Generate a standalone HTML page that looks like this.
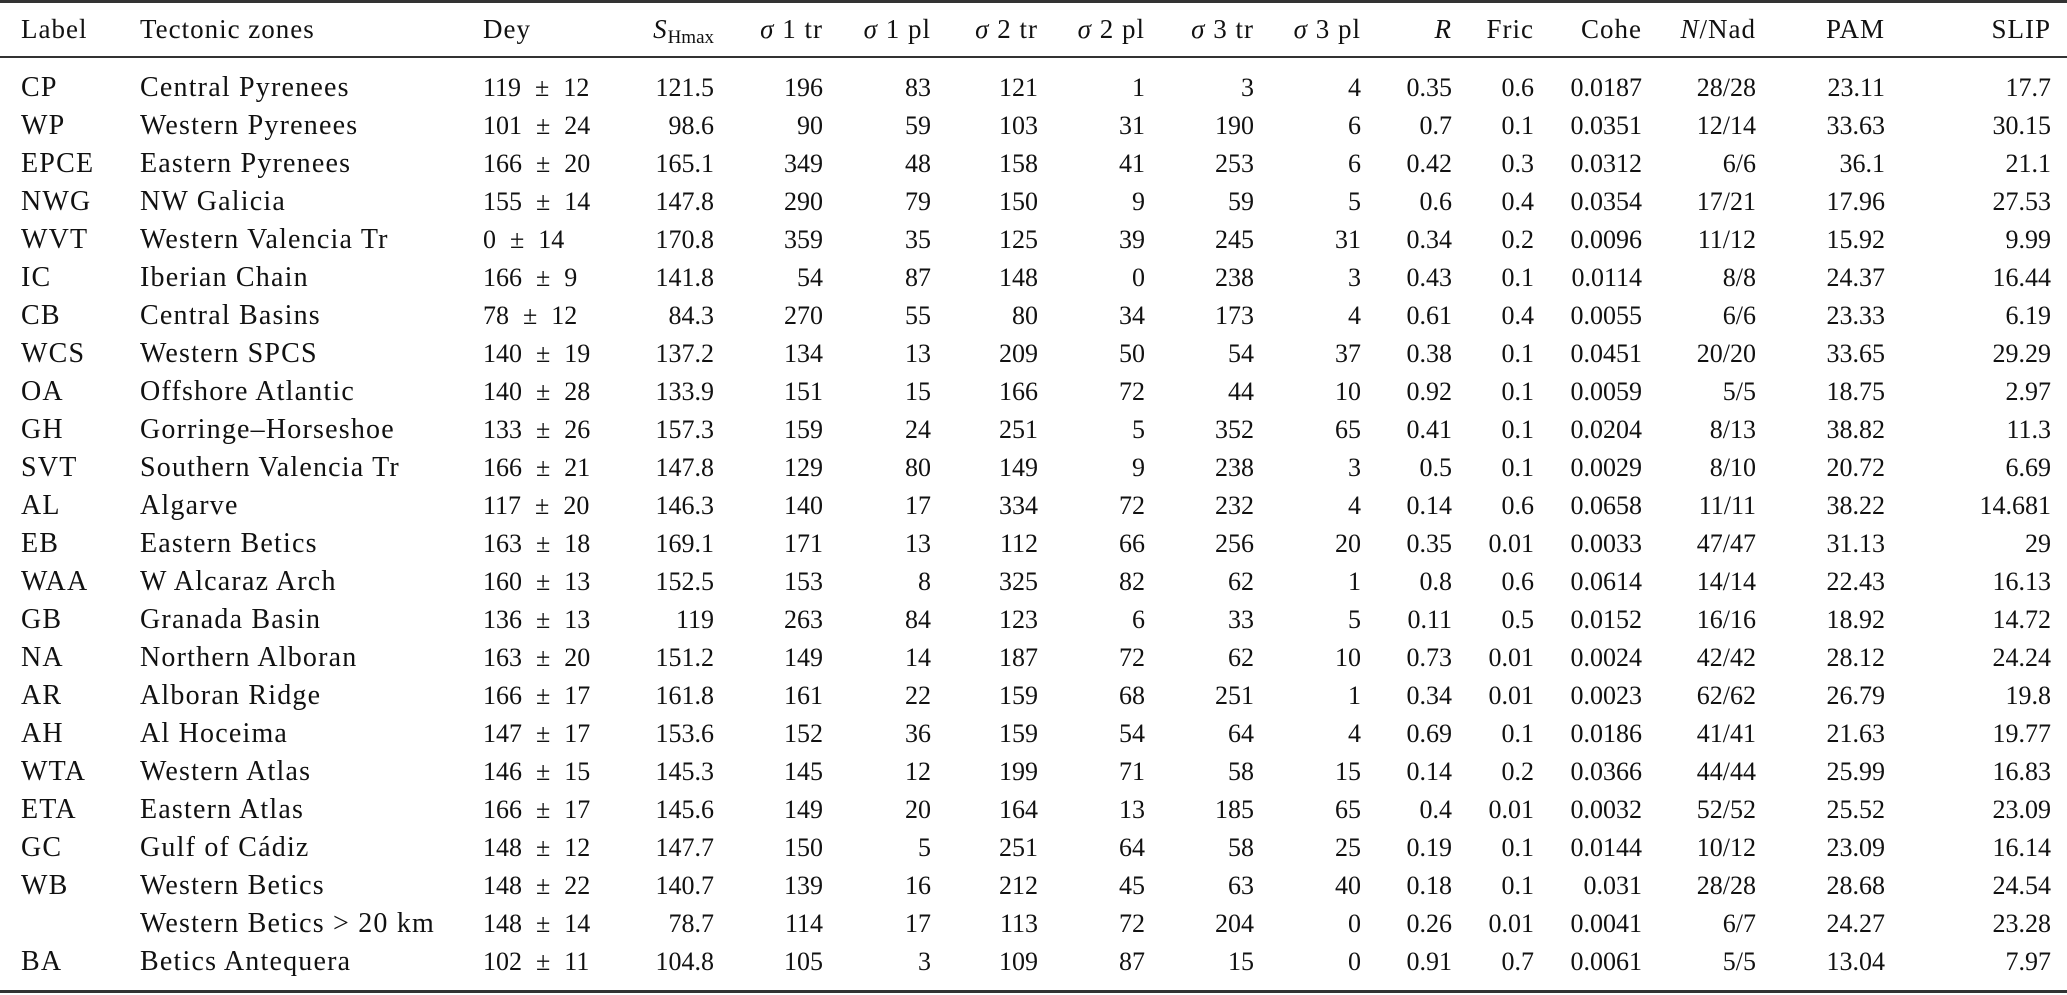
<!DOCTYPE html>
<html><head><meta charset="utf-8"><style>
html,body{margin:0;padding:0;background:#fff;}
body{width:2067px;height:995px;position:relative;overflow:hidden;font-family:"Liberation Serif",serif;font-size:26px;color:#111;}
.rule{position:absolute;left:0;width:2067px;background:#333;}
table{position:absolute;left:21px;border-collapse:collapse;table-layout:fixed;}
td{padding:0;white-space:nowrap;text-align:right;height:38px;line-height:38px;}
td.l{text-align:left;}
td.t{font-size:28px;letter-spacing:1.2px;}
tr.h td{font-size:27px;letter-spacing:1px;}
.pm{margin:0 14px;}
i{font-style:italic;}
sub{font-size:19px;vertical-align:-5px;line-height:0;letter-spacing:0;}
</style></head><body>
<div class="rule" style="top:0;height:3px"></div>
<div class="rule" style="top:56px;height:2px"></div>
<div class="rule" style="top:990px;height:3px"></div>
<table style="top:10px">
<colgroup><col style="width:119px"><col style="width:343px"><col style="width:137px"><col style="width:94px"><col style="width:109px"><col style="width:108px"><col style="width:107px"><col style="width:107px"><col style="width:109px"><col style="width:107px"><col style="width:91px"><col style="width:82px"><col style="width:108px"><col style="width:114px"><col style="width:129px"><col style="width:166px"></colgroup>
<tr class="h"><td class="l">Label</td><td class="l">Tectonic zones</td><td class="l">Dey</td><td><i>S</i><sub>Hmax</sub></td><td><i>σ</i> 1 tr</td><td><i>σ</i> 1 pl</td><td><i>σ</i> 2 tr</td><td><i>σ</i> 2 pl</td><td><i>σ</i> 3 tr</td><td><i>σ</i> 3 pl</td><td><i>R</i></td><td>Fric</td><td>Cohe</td><td><i>N</i>/Nad</td><td>PAM</td><td>SLIP</td></tr>
</table>
<table style="top:69px">
<colgroup><col style="width:119px"><col style="width:343px"><col style="width:137px"><col style="width:94px"><col style="width:109px"><col style="width:108px"><col style="width:107px"><col style="width:107px"><col style="width:109px"><col style="width:107px"><col style="width:91px"><col style="width:82px"><col style="width:108px"><col style="width:114px"><col style="width:129px"><col style="width:166px"></colgroup>
<tr><td class="l t">CP</td><td class="l t">Central Pyrenees</td><td class="l">119<span class="pm">±</span>12</td><td>121.5</td><td>196</td><td>83</td><td>121</td><td>1</td><td>3</td><td>4</td><td>0.35</td><td>0.6</td><td>0.0187</td><td>28/28</td><td>23.11</td><td>17.7</td></tr>
<tr><td class="l t">WP</td><td class="l t">Western Pyrenees</td><td class="l">101<span class="pm">±</span>24</td><td>98.6</td><td>90</td><td>59</td><td>103</td><td>31</td><td>190</td><td>6</td><td>0.7</td><td>0.1</td><td>0.0351</td><td>12/14</td><td>33.63</td><td>30.15</td></tr>
<tr><td class="l t">EPCE</td><td class="l t">Eastern Pyrenees</td><td class="l">166<span class="pm">±</span>20</td><td>165.1</td><td>349</td><td>48</td><td>158</td><td>41</td><td>253</td><td>6</td><td>0.42</td><td>0.3</td><td>0.0312</td><td>6/6</td><td>36.1</td><td>21.1</td></tr>
<tr><td class="l t">NWG</td><td class="l t">NW Galicia</td><td class="l">155<span class="pm">±</span>14</td><td>147.8</td><td>290</td><td>79</td><td>150</td><td>9</td><td>59</td><td>5</td><td>0.6</td><td>0.4</td><td>0.0354</td><td>17/21</td><td>17.96</td><td>27.53</td></tr>
<tr><td class="l t">WVT</td><td class="l t">Western Valencia Tr</td><td class="l">0<span class="pm">±</span>14</td><td>170.8</td><td>359</td><td>35</td><td>125</td><td>39</td><td>245</td><td>31</td><td>0.34</td><td>0.2</td><td>0.0096</td><td>11/12</td><td>15.92</td><td>9.99</td></tr>
<tr><td class="l t">IC</td><td class="l t">Iberian Chain</td><td class="l">166<span class="pm">±</span>9</td><td>141.8</td><td>54</td><td>87</td><td>148</td><td>0</td><td>238</td><td>3</td><td>0.43</td><td>0.1</td><td>0.0114</td><td>8/8</td><td>24.37</td><td>16.44</td></tr>
<tr><td class="l t">CB</td><td class="l t">Central Basins</td><td class="l">78<span class="pm">±</span>12</td><td>84.3</td><td>270</td><td>55</td><td>80</td><td>34</td><td>173</td><td>4</td><td>0.61</td><td>0.4</td><td>0.0055</td><td>6/6</td><td>23.33</td><td>6.19</td></tr>
<tr><td class="l t">WCS</td><td class="l t">Western SPCS</td><td class="l">140<span class="pm">±</span>19</td><td>137.2</td><td>134</td><td>13</td><td>209</td><td>50</td><td>54</td><td>37</td><td>0.38</td><td>0.1</td><td>0.0451</td><td>20/20</td><td>33.65</td><td>29.29</td></tr>
<tr><td class="l t">OA</td><td class="l t">Offshore Atlantic</td><td class="l">140<span class="pm">±</span>28</td><td>133.9</td><td>151</td><td>15</td><td>166</td><td>72</td><td>44</td><td>10</td><td>0.92</td><td>0.1</td><td>0.0059</td><td>5/5</td><td>18.75</td><td>2.97</td></tr>
<tr><td class="l t">GH</td><td class="l t">Gorringe–Horseshoe</td><td class="l">133<span class="pm">±</span>26</td><td>157.3</td><td>159</td><td>24</td><td>251</td><td>5</td><td>352</td><td>65</td><td>0.41</td><td>0.1</td><td>0.0204</td><td>8/13</td><td>38.82</td><td>11.3</td></tr>
<tr><td class="l t">SVT</td><td class="l t">Southern Valencia Tr</td><td class="l">166<span class="pm">±</span>21</td><td>147.8</td><td>129</td><td>80</td><td>149</td><td>9</td><td>238</td><td>3</td><td>0.5</td><td>0.1</td><td>0.0029</td><td>8/10</td><td>20.72</td><td>6.69</td></tr>
<tr><td class="l t">AL</td><td class="l t">Algarve</td><td class="l">117<span class="pm">±</span>20</td><td>146.3</td><td>140</td><td>17</td><td>334</td><td>72</td><td>232</td><td>4</td><td>0.14</td><td>0.6</td><td>0.0658</td><td>11/11</td><td>38.22</td><td>14.681</td></tr>
<tr><td class="l t">EB</td><td class="l t">Eastern Betics</td><td class="l">163<span class="pm">±</span>18</td><td>169.1</td><td>171</td><td>13</td><td>112</td><td>66</td><td>256</td><td>20</td><td>0.35</td><td>0.01</td><td>0.0033</td><td>47/47</td><td>31.13</td><td>29</td></tr>
<tr><td class="l t">WAA</td><td class="l t">W Alcaraz Arch</td><td class="l">160<span class="pm">±</span>13</td><td>152.5</td><td>153</td><td>8</td><td>325</td><td>82</td><td>62</td><td>1</td><td>0.8</td><td>0.6</td><td>0.0614</td><td>14/14</td><td>22.43</td><td>16.13</td></tr>
<tr><td class="l t">GB</td><td class="l t">Granada Basin</td><td class="l">136<span class="pm">±</span>13</td><td>119</td><td>263</td><td>84</td><td>123</td><td>6</td><td>33</td><td>5</td><td>0.11</td><td>0.5</td><td>0.0152</td><td>16/16</td><td>18.92</td><td>14.72</td></tr>
<tr><td class="l t">NA</td><td class="l t">Northern Alboran</td><td class="l">163<span class="pm">±</span>20</td><td>151.2</td><td>149</td><td>14</td><td>187</td><td>72</td><td>62</td><td>10</td><td>0.73</td><td>0.01</td><td>0.0024</td><td>42/42</td><td>28.12</td><td>24.24</td></tr>
<tr><td class="l t">AR</td><td class="l t">Alboran Ridge</td><td class="l">166<span class="pm">±</span>17</td><td>161.8</td><td>161</td><td>22</td><td>159</td><td>68</td><td>251</td><td>1</td><td>0.34</td><td>0.01</td><td>0.0023</td><td>62/62</td><td>26.79</td><td>19.8</td></tr>
<tr><td class="l t">AH</td><td class="l t">Al Hoceima</td><td class="l">147<span class="pm">±</span>17</td><td>153.6</td><td>152</td><td>36</td><td>159</td><td>54</td><td>64</td><td>4</td><td>0.69</td><td>0.1</td><td>0.0186</td><td>41/41</td><td>21.63</td><td>19.77</td></tr>
<tr><td class="l t">WTA</td><td class="l t">Western Atlas</td><td class="l">146<span class="pm">±</span>15</td><td>145.3</td><td>145</td><td>12</td><td>199</td><td>71</td><td>58</td><td>15</td><td>0.14</td><td>0.2</td><td>0.0366</td><td>44/44</td><td>25.99</td><td>16.83</td></tr>
<tr><td class="l t">ETA</td><td class="l t">Eastern Atlas</td><td class="l">166<span class="pm">±</span>17</td><td>145.6</td><td>149</td><td>20</td><td>164</td><td>13</td><td>185</td><td>65</td><td>0.4</td><td>0.01</td><td>0.0032</td><td>52/52</td><td>25.52</td><td>23.09</td></tr>
<tr><td class="l t">GC</td><td class="l t">Gulf of Cádiz</td><td class="l">148<span class="pm">±</span>12</td><td>147.7</td><td>150</td><td>5</td><td>251</td><td>64</td><td>58</td><td>25</td><td>0.19</td><td>0.1</td><td>0.0144</td><td>10/12</td><td>23.09</td><td>16.14</td></tr>
<tr><td class="l t">WB</td><td class="l t">Western Betics</td><td class="l">148<span class="pm">±</span>22</td><td>140.7</td><td>139</td><td>16</td><td>212</td><td>45</td><td>63</td><td>40</td><td>0.18</td><td>0.1</td><td>0.031</td><td>28/28</td><td>28.68</td><td>24.54</td></tr>
<tr><td class="l t"></td><td class="l t">Western Betics &gt; 20 km</td><td class="l">148<span class="pm">±</span>14</td><td>78.7</td><td>114</td><td>17</td><td>113</td><td>72</td><td>204</td><td>0</td><td>0.26</td><td>0.01</td><td>0.0041</td><td>6/7</td><td>24.27</td><td>23.28</td></tr>
<tr><td class="l t">BA</td><td class="l t">Betics Antequera</td><td class="l">102<span class="pm">±</span>11</td><td>104.8</td><td>105</td><td>3</td><td>109</td><td>87</td><td>15</td><td>0</td><td>0.91</td><td>0.7</td><td>0.0061</td><td>5/5</td><td>13.04</td><td>7.97</td></tr>
</table>
</body></html>
